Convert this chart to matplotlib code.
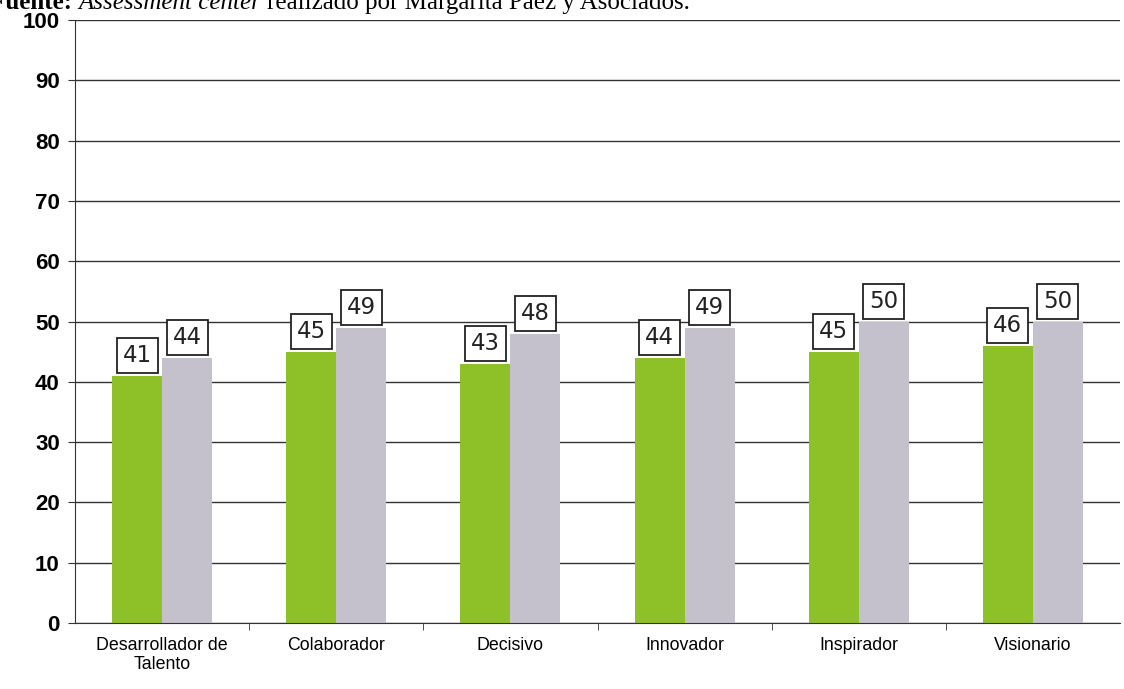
import matplotlib
matplotlib.use("Agg")
import matplotlib.pyplot as plt
import numpy as np

categories = ["Desarrollador de\nTalento", "Colaborador", "Decisivo", "Innovador", "Inspirador", "Visionario"]
serie_verde = [41, 45, 43, 44, 45, 46]
serie_gris = [44, 49, 48, 49, 50, 50]
yticks = [0, 10, 20, 30, 40, 50, 60, 70, 80, 90, 100]

W, H = 1124, 689
fig = plt.figure(figsize=(W / 100, H / 100), dpi=100)
ax = fig.add_axes([75 / W, 1 - 623 / H, (1120 - 75) / W, (623 - 20) / H])

x = np.arange(len(categories))
bw = 0.287
green = "#8dc127"
gray = "#c5c1cc"

ax.set_axisbelow(True)
ax.yaxis.grid(True, color="#333333", linewidth=1.0)
b1 = ax.bar(x - bw / 2, serie_verde, width=bw, color=green, edgecolor="none")
b2 = ax.bar(x + bw / 2, serie_gris, width=bw, color=gray, edgecolor="none")

for bars, vals in ((b1, serie_verde), (b2, serie_gris)):
    for rect, v in zip(bars, vals):
        ax.annotate(f"{v}", (rect.get_x() + rect.get_width() / 2, rect.get_height()),
                    xytext=(0, 6), textcoords="offset points", ha="center", va="bottom",
                    fontsize=16.5, family="DejaVu Sans", color="#222222",
                    bbox=dict(boxstyle="square,pad=0.26", fc="white", ec="#222222", lw=1.3))

ax.set_xlim(-0.5, len(categories) - 0.5)
ax.set_ylim(0, 100)
ax.set_yticks(yticks)
ax.set_yticklabels([str(t) for t in yticks], fontsize=16, fontweight="bold",
                   family="Liberation Sans")
ax.set_xticks(x)
ax.set_xticklabels(categories, fontsize=12.8, family="Liberation Sans")
ax.set_xticks(np.arange(0.5, len(categories) - 0.5, 1), minor=True)
ax.tick_params(axis="x", which="major", length=0, pad=10)
ax.tick_params(axis="x", which="minor", length=5, color="#333333")
ax.tick_params(axis="y", length=5, color="#333333", pad=6)

for s in ("top", "right"):
    ax.spines[s].set_visible(False)
ax.spines["left"].set_color("#333333")
ax.spines["bottom"].set_color("#333333")

# Source line at top (partially cut off in the reference)
pieces = [("Fuente: ", dict(fontweight="bold")),
          ("Assessment center ", dict(style="italic")),
          ("realizado por Margarita Páez y Asociados.", dict())]
fig.canvas.draw()
renderer = fig.canvas.get_renderer()
xpos = -10
ybase = 1 - 9 / H
for txt, kw in pieces:
    t = fig.text(xpos / W, ybase, txt, fontsize=18, family="Liberation Serif",
                 va="baseline", ha="left", **kw)
    bb = t.get_window_extent(renderer=renderer)
    xpos += bb.width

fig.savefig("out.png", dpi=100, facecolor="white")
